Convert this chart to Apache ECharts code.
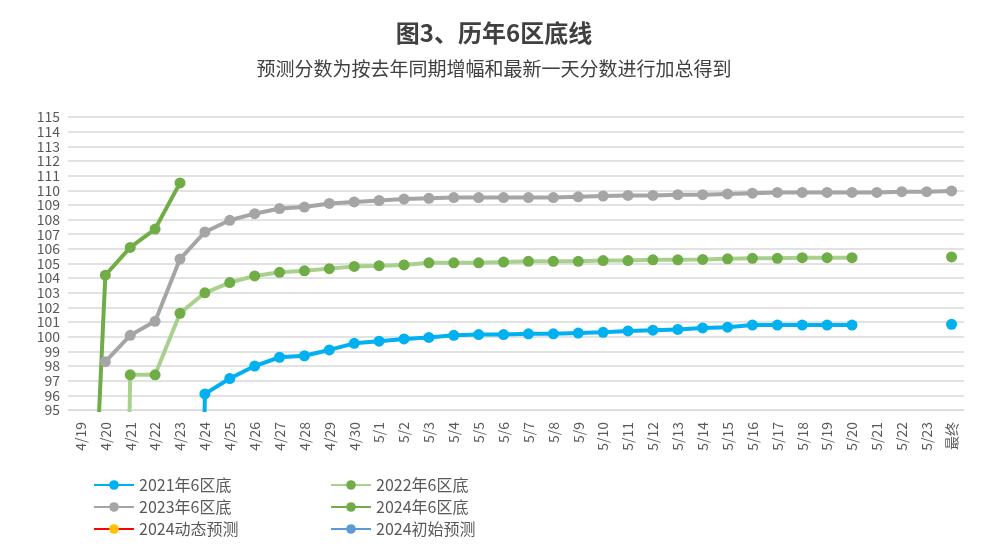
<!DOCTYPE html><html><head><meta charset="utf-8"><script src="https://cdn.jsdelivr.net/npm/echarts@6/dist/echarts.min.js"></script></head><body style="margin:0"><div id="c" style="width:988px;height:556px"></div><script>
const categories=['4/19','4/20','4/21','4/22','4/23','4/24','4/25','4/26','4/27','4/28','4/29','4/30','5/1','5/2','5/3','5/4','5/5','5/6','5/7','5/8','5/9','5/10','5/11','5/12','5/13','5/14','5/15','5/16','5/17','5/18','5/19','5/20','5/21','5/22','5/23','最终'];
const s2021=[null,null,null,null,0,96.1,97.15,98.0,98.6,98.7,99.1,99.55,99.7,99.85,99.95,100.1,100.15,100.15,100.2,100.2,100.25,100.3,100.4,100.45,100.5,100.6,100.65,100.8,100.8,100.8,100.8,100.8,null,null,null,100.85];
const s2022=[null,0,97.4,97.4,101.6,103.0,103.7,104.15,104.4,104.5,104.65,104.8,104.85,104.9,105.05,105.05,105.05,105.1,105.15,105.15,105.15,105.2,105.2,105.25,105.25,105.28,105.32,105.35,105.35,105.4,105.4,105.4,null,null,null,105.45];
const s2023=[null,98.3,100.1,101.05,105.3,107.15,107.95,108.4,108.75,108.85,109.1,109.2,109.3,109.4,109.45,109.5,109.5,109.5,109.5,109.5,109.55,109.6,109.65,109.65,109.7,109.7,109.75,109.8,109.85,109.85,109.85,109.85,109.85,109.9,109.9,109.95];
const s2024=[67,104.2,106.1,107.35,110.5];
const names=['2021年6区底','2022年6区底','2023年6区底','2024年6区底','2024动态预测','2024初始预测'];
const ch=echarts.init(document.getElementById('c'));
const F='"Noto Sans CJK SC",sans-serif';
function ser(name,data,lc,sc){return {name,type:'line',data,connectNulls:false,symbol:'circle',symbolSize:11,showAllSymbol:true,lineStyle:{color:lc,width:4},itemStyle:{color:sc},emphasis:{disabled:true}};}
const lp=[[88,472],[325,472],[88,494],[325,494],[88,516],[325,516]];
ch.setOption({
animation:false,
title:[{text:'图3、历年6区底线',left:'center',top:16,textStyle:{fontFamily:F,fontSize:24,fontWeight:'bold',color:'#404040'}},
{text:'预测分数为按去年同期增幅和最新一天分数进行加总得到',left:'center',top:54,textStyle:{fontFamily:F,fontSize:19,fontWeight:'normal',color:'#404040'}}],
legend:names.map((n,i)=>({data:[n],left:lp[i][0],top:lp[i][1],itemWidth:40,itemHeight:12,textStyle:{fontFamily:F,fontSize:16,color:'#595959'}})),
grid:{left:68,right:24,top:117,bottom:146},
xAxis:{type:'category',data:categories,boundaryGap:true,axisLine:{lineStyle:{color:'#d9d9d9'}},axisTick:{show:false},axisLabel:{rotate:90,interval:0,fontFamily:F,fontSize:14,color:'#595959',margin:12}},
yAxis:{type:'value',min:95,max:115,interval:1,axisLine:{show:false},axisTick:{show:false},splitLine:{lineStyle:{color:'#d9d9d9',width:1.5}},axisLabel:{fontFamily:F,fontSize:14,color:'#595959'}},
series:[ser(names[0],s2021,'#00B0F0','#00B0F0'),ser(names[1],s2022,'#A9D18E','#70AD47'),ser(names[2],s2023,'#A5A5A5','#A5A5A5'),ser(names[3],s2024,'#70AD47','#70AD47'),ser(names[4],[],'#FF0000','#FFC000'),ser(names[5],[],'#5B9BD5','#5B9BD5')]
});
</script></body></html>
